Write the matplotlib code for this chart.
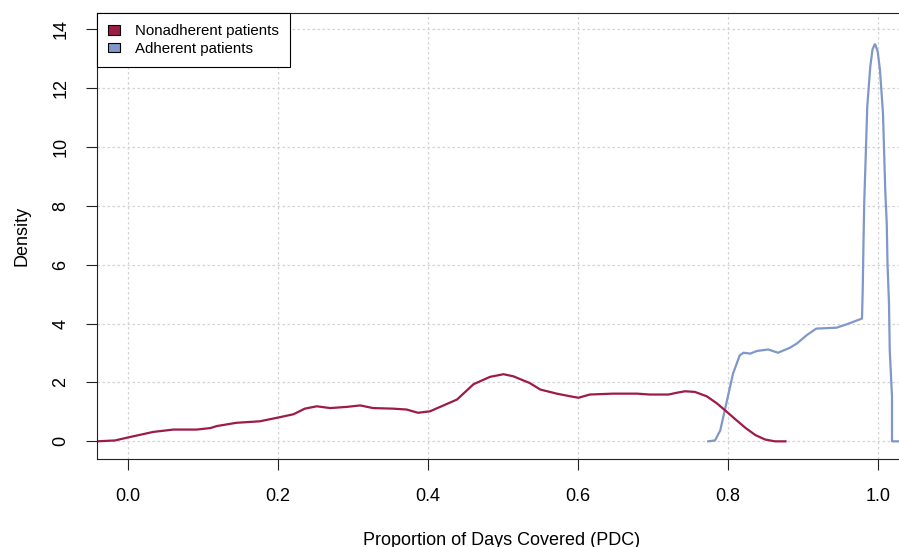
import matplotlib
matplotlib.use('Agg')
import matplotlib.pyplot as plt
from matplotlib.patches import Patch

plt.rcParams['font.family'] = ['Liberation Sans', 'DejaVu Sans']

# density curves
non_x = [-0.041, -0.017, 0.0, 0.034, 0.061, 0.092, 0.110, 0.119, 0.145, 0.176,
         0.199, 0.221, 0.236, 0.252, 0.270, 0.292, 0.310, 0.327, 0.354, 0.372,
         0.387, 0.403, 0.421, 0.439, 0.461, 0.483, 0.501, 0.514, 0.536, 0.550,
         0.572, 0.590, 0.601, 0.616, 0.647, 0.679, 0.696, 0.721, 0.732, 0.743,
         0.756, 0.772, 0.785, 0.798, 0.811, 0.824, 0.837, 0.850, 0.863, 0.877]
non_y = [0.0, 0.03, 0.13, 0.32, 0.40, 0.40, 0.45, 0.52, 0.63, 0.68,
         0.80, 0.92, 1.11, 1.19, 1.13, 1.17, 1.22, 1.13, 1.11, 1.08,
         0.97, 1.02, 1.22, 1.42, 1.94, 2.19, 2.28, 2.21, 1.98, 1.76,
         1.62, 1.53, 1.48, 1.59, 1.62, 1.62, 1.59, 1.59, 1.65, 1.70,
         1.68, 1.53, 1.30, 1.02, 0.73, 0.45, 0.21, 0.06, 0.0, 0.0]

adh_x = [0.774, 0.783, 0.790, 0.799, 0.807, 0.816, 0.821, 0.830, 0.839, 0.854,
         0.867, 0.883, 0.892, 0.905, 0.918, 0.945, 0.959, 0.979, 0.980, 0.981,
         0.982, 0.984, 0.986, 0.990, 0.993, 0.996, 0.997, 1.000, 1.003, 1.007,
         1.010, 1.012, 1.013, 1.015, 1.016, 1.019, 1.019, 1.030]
adh_y = [0.0, 0.03, 0.37, 1.39, 2.30, 2.92, 3.01, 2.98, 3.07, 3.12,
         3.01, 3.18, 3.32, 3.60, 3.83, 3.86, 3.98, 4.17, 5.2, 6.77,
         8.13, 9.72, 11.36, 12.72, 13.31, 13.49, 13.46, 13.23, 12.6, 11.13,
         8.53, 7.40, 6.04, 4.68, 3.09, 1.51, 0.0, 0.0]

labels = ['Nonadherent patients', 'Adherent patients']
colors = ['#9E1A48', '#7F97CA']
xticks = [0.0, 0.2, 0.4, 0.6, 0.8, 1.0]
yticks = [0, 2, 4, 6, 8, 10, 12, 14]

fig = plt.figure(figsize=(8.99, 5.47), dpi=100)
# plot region runs a little past the right edge of the picture
ax = fig.add_axes([97/899, 88/547, 810/899, 446/547])

ax.grid(True, color='#D3D3D3', linestyle=(0, (2, 2)), linewidth=0.9)
ax.set_axisbelow(True)

ax.plot(adh_x, adh_y, color=colors[1], lw=1.6)
ax.plot(non_x, non_y, color=colors[0], lw=1.6)

ax.set_xlim(-0.041, 1.039)
ax.set_ylim(-0.6, 14.55)
ax.set_xticks(xticks)
ax.set_xticklabels(['%.1f' % v for v in xticks])
ax.set_yticks(yticks)
ax.tick_params(axis='both', length=8, width=0.8, labelsize=13, color='#222222')
ax.tick_params(axis='x', pad=13)
ax.tick_params(axis='y', pad=12, labelrotation=90)
for lab in ax.get_yticklabels():
    lab.set_va('center')

for s in ax.spines.values():
    s.set_linewidth(0.8)
    s.set_color('#222222')

ax.set_xlabel('Proportion of Days Covered (PDC)', fontsize=13)
ax.xaxis.set_label_coords(0.5, -0.163)
ax.set_ylabel('Density', fontsize=13, va='center')
ax.yaxis.set_label_coords(-0.092, 0.5)

handles = [Patch(facecolor=c, edgecolor='black', linewidth=0.8) for c in colors]
leg = ax.legend(handles, labels, loc='upper left', bbox_to_anchor=(0, 1),
                borderaxespad=0, fancybox=False, framealpha=1, edgecolor='black',
                fontsize=10.8, handlelength=0.8, handleheight=0.6,
                handletextpad=1.0, labelspacing=0.25, borderpad=0.75)
leg.get_frame().set_linewidth(0.8)

fig.savefig('out.png', dpi=100)
